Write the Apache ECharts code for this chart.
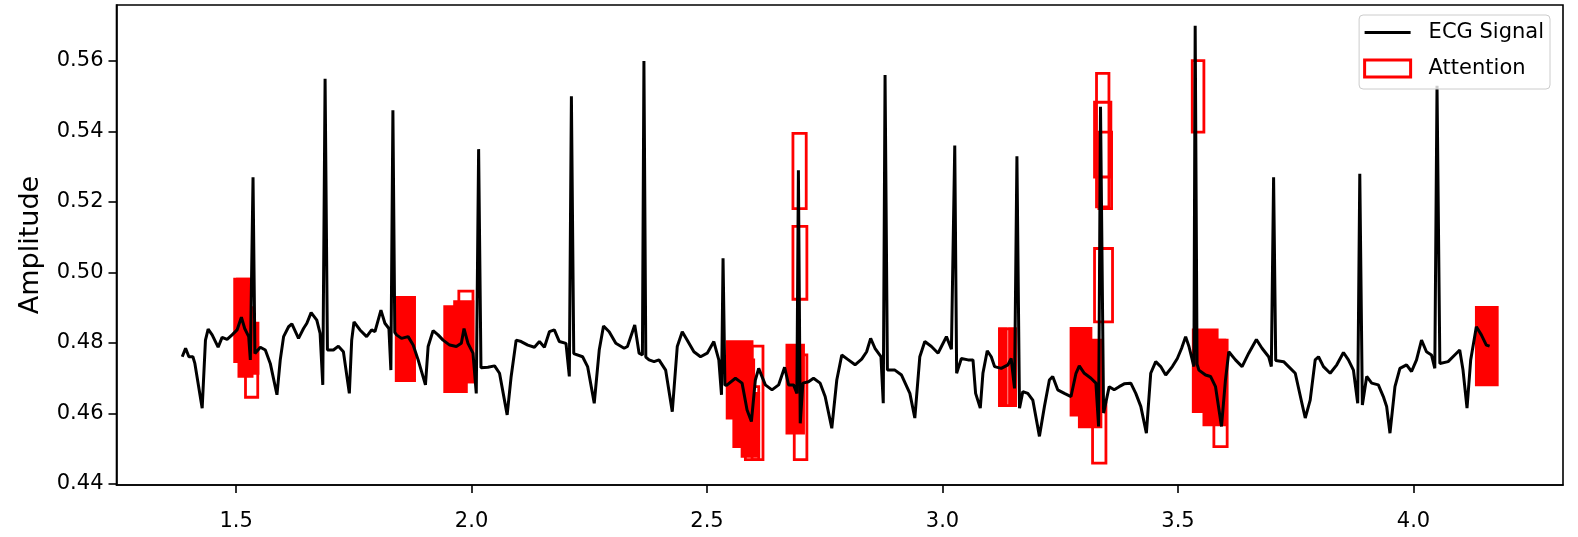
<!DOCTYPE html>
<html>
<head>
<meta charset="utf-8">
<script src="https://cdn.jsdelivr.net/npm/echarts@6/dist/echarts.min.js"></script>
<style>
html,body{margin:0;padding:0;background:#fff;}
#chart{width:1578px;height:537px;}
</style>
</head>
<body>
<div id="chart"></div>
<script>
// ECG signal (time, amplitude)
const ecgTime = [
1.3857,1.3928,1.3998,1.4083,1.4125,1.4280,1.4350,1.4407,1.4492,1.4619,1.4703,1.4809,1.4915,1.5021,1.5113,1.5183,1.5268,1.5303,1.5360,1.5400,
1.5423,1.5515,1.5621,1.5726,1.5868,1.5938,1.6009,1.6115,1.6185,1.6326,1.6432,1.6503,1.6594,1.6714,1.6784,1.6841,1.6890,1.6940,
1.7067,1.7173,1.7279,1.7405,1.7455,1.7504,1.7631,1.7772,1.7878,1.7949,1.8076,1.8160,1.8245,1.8287,1.8330,1.8370,1.8407,1.8513,1.8654,1.8760,1.8866,1.9021,
1.9078,1.9183,1.9289,1.9395,1.9536,1.9677,1.9783,1.9840,1.9924,2.0030,2.0100,2.0150,2.0200,2.0347,2.0489,2.0594,2.0756,2.0841,2.0947,2.1053,
2.1194,2.1335,2.1441,2.1547,2.1653,2.1758,2.1864,2.2005,2.2076,2.2120,2.2170,2.2358,2.2464,2.2605,2.2711,2.2802,2.2922,2.3063,2.3240,2.3310,
2.3465,2.3557,2.3628,2.3660,2.3700,2.3769,2.3875,2.3980,2.4121,2.4262,2.4368,2.4474,2.4580,2.4721,2.4862,2.5004,2.5144,2.5250,2.5307,2.5340,2.5380,
2.5427,2.5603,2.5744,2.5850,2.5942,2.6026,2.6097,2.6238,2.6379,2.6520,2.6647,2.6732,2.6838,2.6908,2.6940,2.6979,2.7035,2.7155,2.7261,2.7402,2.7508,2.7649,
2.7755,2.7861,2.8002,2.8143,2.8284,2.8389,2.8474,2.8566,2.8693,2.8742,2.8780,2.8830,2.8989,2.9130,2.9307,2.9412,2.9518,2.9624,2.9765,2.9906,2.9977,3.0083,
3.0189,3.0230,3.0260,3.0300,3.0400,3.0541,3.0647,3.0703,3.0802,3.0858,3.0950,3.1035,3.1105,3.1247,3.1388,3.1458,3.1529,3.1580,3.1635,3.1705,3.1811,3.1917,
3.2058,3.2164,3.2269,3.2340,3.2446,3.2587,3.2728,3.2834,3.2904,3.3011,3.3152,3.3257,3.3314,3.3355,3.3420,3.3539,3.3645,3.3751,3.3857,3.3998,3.4104,3.4210,
3.4329,3.4421,3.4527,3.4633,3.4739,3.4880,3.4986,3.5077,3.5162,3.5233,3.5303,3.5338,3.5365,3.5405,3.5444,3.5585,3.5691,3.5797,3.5924,3.6008,3.6079,3.6220,
3.6361,3.6502,3.6665,3.6784,3.6925,3.6982,3.7030,3.7075,3.7243,3.7349,3.7490,3.7631,3.7702,3.7807,3.7913,3.7984,3.8089,3.8231,3.8372,3.8513,3.8619,3.8725,
3.8816,3.8860,3.8915,3.9007,3.9113,3.9254,3.9360,3.9430,3.9501,3.9607,3.9712,3.9853,3.9959,4.0065,4.0171,4.0276,4.0382,4.0453,4.0500,4.0560,4.0735,4.0876,
4.0982,4.1052,4.1137,4.1215,4.1335,4.1441,4.1547,4.1617
];
const ecgAmp = [
0.4761,0.4785,0.4761,0.4761,0.4742,0.4615,0.4808,0.4839,0.4823,0.4788,0.4816,0.4810,0.4823,0.4837,0.4873,0.4841,0.4818,0.4752,0.5270,0.4770,
0.4775,0.4788,0.4780,0.4742,0.4653,0.4752,0.4818,0.4846,0.4854,0.4813,0.4841,0.4856,0.4886,0.4865,0.4827,0.4681,0.5550,0.4780,
0.4780,0.4791,0.4775,0.4657,0.4808,0.4860,0.4837,0.4818,0.4837,0.4832,0.4893,0.4856,0.4841,0.4723,0.5460,0.4830,0.4823,0.4813,0.4818,0.4794,0.4752,0.4681,
0.4790,0.4835,0.4823,0.4808,0.4794,0.4790,0.4799,0.4841,0.4799,0.4771,0.4657,0.5350,0.4730,0.4731,0.4735,0.4714,0.4596,0.4705,0.4808,0.4804,
0.4794,0.4788,0.4804,0.4788,0.4832,0.4837,0.4804,0.4799,0.4705,0.5500,0.4770,0.4761,0.4733,0.4629,0.4780,0.4848,0.4832,0.4799,0.4785,0.4790,
0.4851,0.4771,0.4766,0.5600,0.4760,0.4752,0.4747,0.4752,0.4723,0.4605,0.4790,0.4832,0.4808,0.4775,0.4761,0.4771,0.4804,0.4752,0.4653,0.5040,0.4680,
0.4681,0.4700,0.4686,0.4610,0.4577,0.4695,0.4728,0.4681,0.4667,0.4681,0.4731,0.4681,0.4681,0.4657,0.5290,0.4572,0.4686,0.4690,0.4700,0.4686,0.4648,0.4558,
0.4695,0.4766,0.4752,0.4738,0.4754,0.4775,0.4813,0.4785,0.4761,0.4629,0.5560,0.4723,0.4723,0.4709,0.4657,0.4587,0.4761,0.4804,0.4790,0.4771,0.4790,0.4818,
0.4782,0.4780,0.5360,0.4714,0.4756,0.4752,0.4752,0.4657,0.4615,0.4714,0.4778,0.4761,0.4733,0.4728,0.4738,0.4756,0.4671,0.5330,0.4615,0.4662,0.4657,0.4638,
0.4535,0.4620,0.4695,0.4705,0.4667,0.4657,0.4648,0.4714,0.4735,0.4714,0.4700,0.4686,0.4563,0.5470,0.4601,0.4676,0.4667,0.4676,0.4684,0.4686,0.4657,0.4620,
0.4544,0.4714,0.4747,0.4733,0.4709,0.4733,0.4756,0.4785,0.4818,0.4790,0.4752,0.4733,0.5700,0.4740,0.4723,0.4709,0.4705,0.4676,0.4563,0.4695,0.4775,0.4752,
0.4733,0.4771,0.4810,0.4785,0.4761,0.4733,0.5270,0.4750,0.4747,0.4733,0.4714,0.4629,0.4587,0.4638,0.4752,0.4761,0.4733,0.4714,0.4738,0.4773,0.4752,0.4723,
0.4629,0.5280,0.4624,0.4705,0.4686,0.4681,0.4648,0.4620,0.4544,0.4676,0.4728,0.4738,0.4719,0.4752,0.4808,0.4775,0.4766,0.4728,0.5530,0.4742,0.4747,0.4766,
0.4780,0.4723,0.4615,0.4752,0.4846,0.4823,0.4794,0.4791
];

// Attention windows [t0, t1, a0, a1]: dense overlapping groups (appear solid)
const attnClusters = [
[1.497,1.529,0.4747,0.4981],[1.506,1.534,0.4705,0.4900],[1.527,1.5465,0.4714,0.4856],
[1.840,1.879,0.4693,0.4929],
[1.943,1.989,0.4662,0.4903],[1.964,2.003,0.4690,0.4917],
[2.5427,2.5956,0.4587,0.4804],[2.5568,2.5991,0.4506,0.4752],[2.5744,2.6097,0.4478,0.4657],
[2.6696,2.7049,0.4544,0.4794],
[3.1211,3.1352,0.4622,0.4840],[3.1423,3.1550,0.4622,0.4840],
[3.2729,3.3152,0.4595,0.4841],[3.2905,3.3364,0.4562,0.4808],
[3.5324,3.5832,0.4605,0.4837],[3.5550,3.5994,0.4568,0.4808],
[4.1335,4.1779,0.4681,0.4901]
];
// Attention windows [t0, t1, a0, a1]: single outlined boxes
const attnBoxes = [
[1.520,1.546,0.4646,0.4800],[1.503,1.527,0.4760,0.4981],
[1.973,2.003,0.4690,0.4947],
[2.5956,2.6188,0.4469,0.4791],[2.5814,2.6097,0.4469,0.4676],
[2.6852,2.7120,0.4469,0.4766],[2.6824,2.7106,0.5181,0.5395],[2.6824,2.7120,0.4924,0.5131],
[3.1211,3.1550,0.4622,0.4840],
[3.3186,3.3470,0.4459,0.4630],[3.3228,3.3610,0.4860,0.5068],[3.3270,3.3534,0.5186,0.5565],
[3.3228,3.3575,0.5271,0.5483],[3.3320,3.3590,0.5181,0.5398],
[3.5303,3.5550,0.5398,0.5601],[3.5762,3.6044,0.4506,0.4808]
];
const xTicks = [1.5,2.0,2.5,3.0,3.5,4.0];
const yTicks = [0.44,0.46,0.48,0.50,0.52,0.54,0.56];

const FONT = 'DejaVu Sans';
const ecgData = ecgTime.map((t,i)=>[t, ecgAmp[i]]);

function rectRenderer(filled){
  return function(params, api){
    const p0 = api.coord([api.value(0), api.value(3)]);
    const p1 = api.coord([api.value(1), api.value(2)]);
    return {
      type:'rect',
      shape:{x:p0[0], y:p0[1], width:p1[0]-p0[0], height:p1[1]-p0[1]},
      style:{fill: filled ? '#ff0000' : 'none', stroke:'#ff0000', lineWidth:2.8}
    };
  };
}

const chart = echarts.init(document.getElementById('chart'), null, {renderer:'canvas'});
chart.setOption({
  animation:false,
  backgroundColor:'#ffffff',
  grid:{left:116.5, right:15, top:5, bottom:52, show:true, borderColor:'#000', borderWidth:1.6, backgroundColor:'transparent'},
  xAxis:{
    type:'value', min:1.2461, max:4.3175,
    axisLine:{show:true, onZero:false, lineStyle:{color:'#000', width:1.6}},
    axisTick:{show:true, inside:false, length:8, lineStyle:{color:'#000', width:1.6}, customValues:xTicks},
    axisLabel:{customValues:xTicks, formatter:v=>v.toFixed(1), fontFamily:FONT, fontSize:21, color:'#000', margin:26},
    splitLine:{show:false}
  },
  yAxis:{
    type:'value', min:0.4397, max:0.5759,
    name:'Amplitude', nameLocation:'middle', nameGap:72, nameRotate:90,
    nameTextStyle:{fontFamily:FONT, fontSize:27, color:'#000'},
    axisLine:{show:true, onZero:false, lineStyle:{color:'#000', width:1.6}},
    axisTick:{show:true, inside:false, length:8, lineStyle:{color:'#000', width:1.6}, customValues:yTicks},
    axisLabel:{customValues:yTicks, formatter:v=>v.toFixed(2), fontFamily:FONT, fontSize:21, color:'#000', margin:13},
    splitLine:{show:false}
  },
  legend:{
    orient:'vertical', right:28, top:15,
    padding:[7,6,10,4], itemWidth:46, itemHeight:17, itemGap:15,
    backgroundColor:'rgba(255,255,255,0.8)', borderColor:'#cccccc', borderWidth:1, borderRadius:4,
    selectedMode:false,
    textStyle:{fontFamily:FONT, fontSize:21, color:'#000', padding:[0,0,0,13]},
    data:[
      {name:'ECG Signal', icon:'path://M0,0M46,17M0,7L46,7L46,10L0,10Z', itemStyle:{color:'#000', borderWidth:0}},
      {name:'Attention', icon:'rect', itemStyle:{color:'#ffffff', borderColor:'#ff0000', borderWidth:3}}
    ]
  },
  series:[
    {type:'custom', name:'Attention', z:2, renderItem:rectRenderer(true),
     itemStyle:{color:'#ff0000'}, encode:{x:[0,1], y:[2,3]}, data:attnClusters, silent:true},
    {type:'custom', name:'Attention', z:2, renderItem:rectRenderer(false),
     itemStyle:{color:'#ff0000'}, encode:{x:[0,1], y:[2,3]}, data:attnBoxes, silent:true},
    {type:'line', name:'ECG Signal', z:3, data:ecgData, showSymbol:false, symbol:'none',
     lineStyle:{color:'#000', width:3}, itemStyle:{color:'#000'}, silent:true}
  ]
});
</script>
</body>
</html>
